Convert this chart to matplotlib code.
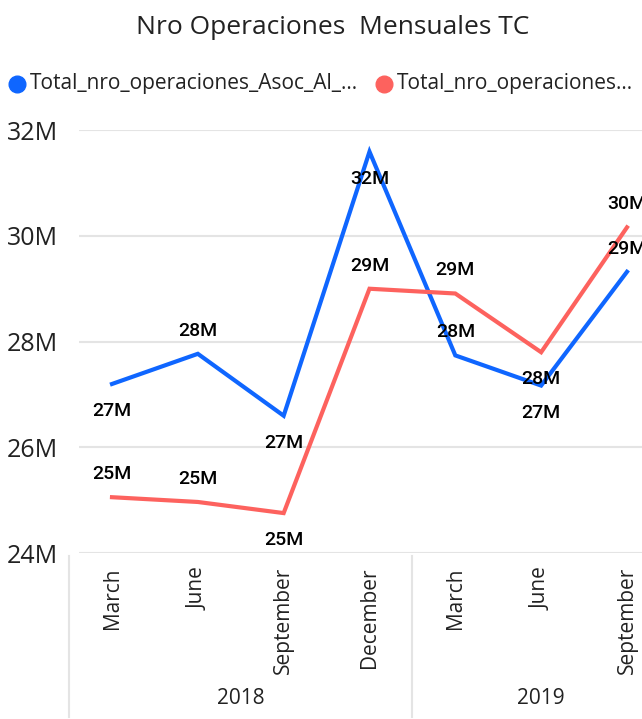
import numpy as np
import matplotlib.pyplot as plt
from matplotlib.lines import Line2D

# datos (millones)
meses = ["March", "June", "September", "December", "March", "June", "September"]
anios = ["2018", "2019"]
meses_por_anio = [4, 3]
serie_azul = [27.20, 27.77, 26.60, 31.59, 27.74, 27.17, 29.32]
serie_roja = [25.06, 24.97, 24.76, 29.00, 28.91, 27.80, 30.16]
nombre_azul = "Total_nro_operaciones_Asoc_Al_..."
nombre_roja = "Total_nro_operaciones..."
# posicion de la etiqueta: +1 arriba, -1 abajo
pos_azul = [-1, 1, -1, -1, 1, -1, 1]
pos_roja = [1, 1, -1, 1, 1, -1, 1]

azul = "#0F66FF"
rojo = "#FD625E"
gris = "#E4E4E4"
W, H = 642, 719

fig = plt.figure(figsize=(W / 100, H / 100), dpi=100)
ax = fig.add_axes([79 / W, 1 - 553.3 / H, (W - 79) / W, (553.3 - 130) / H])

x = np.arange(len(meses))
ax.plot(x, serie_azul, color=azul, lw=3, solid_joinstyle="miter", zorder=3)
ax.plot(x, serie_roja, color=rojo, lw=3, solid_joinstyle="miter", zorder=3)

for serie, pos in [(serie_azul, pos_azul), (serie_roja, pos_roja)]:
    for xi, v, p in zip(x, serie, pos):
        off = 23 if p > 0 else -27
        ax.annotate("{:.0f}M".format(round(v)), (xi, v), xytext=(0, off),
                    textcoords="offset pixels", ha="center", va="center",
                    fontsize=14, family="Roboto", fontweight="medium",
                    color="black", zorder=4, annotation_clip=False)

ax.set_xlim(-0.3845, 6.175)
ax.set_ylim(24, 32)
ax.set_yticks([24, 26, 28, 30, 32])
ax.set_yticklabels(["{}M".format(t) for t in [24, 26, 28, 30, 32]],
                   fontsize=18, family="Open Sans", color="#222222")
ax.tick_params(axis="y", length=0, pad=15)
ax.set_xticks(x)
ax.set_xticklabels(meses, rotation=90, fontsize=15, family="Open Sans",
                   color="#222222", va="top")
ax.tick_params(axis="x", length=0, pad=10)
ax.grid(axis="y", color=gris, lw=1.5)
ax.set_axisbelow(True)
for s in ax.spines.values():
    s.set_visible(False)

# separadores de anio y etiquetas de anio
tr = ax.get_xaxis_transform()
y0 = (553.3 - 556) / (553.3 - 130)
y1 = (553.3 - 717) / (553.3 - 130)
ya = (553.3 - 698) / (553.3 - 130)
inicio = -0.5
for anio, n in zip(anios, meses_por_anio):
    ax.add_line(Line2D([inicio, inicio], [y0, y1], transform=tr, color=gris,
                       lw=1.5, clip_on=False))
    ax.text(inicio + n / 2, ya, anio, transform=tr, ha="center", va="center",
            fontsize=15, family="Open Sans", color="#222222")
    inicio += n

# titulo
fig.text(333 / W, 1 - 27 / H, "Nro Operaciones  Mensuales TC", ha="center",
         va="center", fontsize=19, family="Open Sans", color="#222222")

# leyenda
for cx, tx, col, nombre in [(17, 30, azul, nombre_azul), (384, 397, rojo, nombre_roja)]:
    fig.add_artist(Line2D([cx / W], [1 - 84 / H], marker="o", markersize=12,
                          color=col, transform=fig.transFigure))
    fig.text(tx / W, 1 - 84 / H, nombre, ha="left", va="center", fontsize=15,
             family="Open Sans", color="#222222")

fig.savefig("out.png", dpi=100)
